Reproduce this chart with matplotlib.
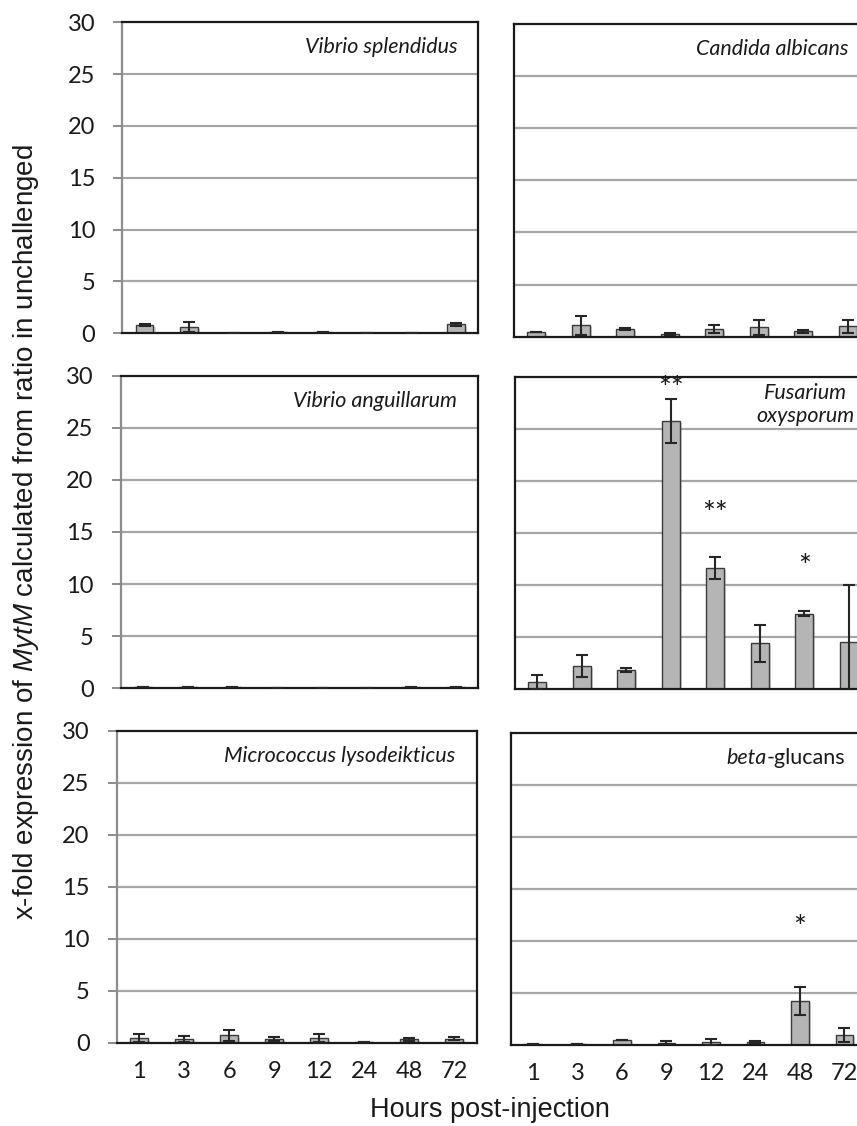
import matplotlib
matplotlib.use("Agg")
import matplotlib.pyplot as plt
import matplotlib.patheffects as pe

plt.rcParams["mathtext.fontset"] = "custom"
plt.rcParams["mathtext.rm"] = "Liberation Sans"
plt.rcParams["mathtext.it"] = "Liberation Sans:italic"

hours = ["1", "3", "6", "9", "12", "24", "48", "72"]

# Vibrio splendidus
vs_mean = [0.80, 0.60, 0.05, 0.15, 0.08, 0.03, 0.06, 0.85]
vs_err = [0.05, 0.45, 0.0, 0.0, 0.0, 0.0, 0.0, 0.15]
# Candida albicans
ca_mean = [0.45, 1.10, 0.75, 0.30, 0.75, 0.90, 0.50, 1.00]
ca_err = [0.0, 0.90, 0.10, 0.10, 0.40, 0.75, 0.15, 0.60]
# Vibrio anguillarum
va_mean = [0.15, 0.10, 0.12, 0.03, 0.02, 0.05, 0.15, 0.08]
va_err = [0.0, 0.0, 0.0, 0.0, 0.0, 0.0, 0.0, 0.0]
# Fusarium oxysporum
fo_mean = [0.70, 2.25, 1.85, 25.8, 11.65, 4.40, 7.25, 4.50]
fo_err = [0.70, 1.05, 0.20, 2.10, 1.10, 1.80, 0.25, 5.50]
# Micrococcus lysodeikticus
ml_mean = [0.45, 0.35, 0.70, 0.35, 0.45, 0.10, 0.35, 0.40]
ml_err = [0.35, 0.30, 0.55, 0.20, 0.35, 0.0, 0.15, 0.15]
# beta-glucans
bg_mean = [0.10, 0.12, 0.50, 0.20, 0.30, 0.25, 4.20, 0.95]
bg_err = [0.0, 0.0, 0.0, 0.15, 0.30, 0.10, 1.35, 0.70]

# significance marks: (bar index, y, text)
fo_stars = [(3, 28.0, "**"), (4, 16.0, "**"), (6, 10.85, "*")]
bg_stars = [(6, 10.4, "*")]

W, H = 857, 1126
fig = plt.figure(figsize=(W / 100, H / 100), dpi=100)


def box(l, t, r, b):
    return [l / W, 1 - b / H, (r - l) / W, (b - t) / H]


panels = [
    ("Vibrio splendidus", vs_mean, vs_err, box(122.3, 22.3, 478.3, 333.3), "L", 0, []),
    ("Candida albicans", ca_mean, ca_err, box(514, 24, 870, 336.7), "R", 0, []),
    ("Vibrio anguillarum", va_mean, va_err, box(120.7, 375.7, 478.3, 688.3), "L", 1, []),
    ("Fusarium\noxysporum", fo_mean, fo_err, box(515, 377, 871, 689.3), "R", 1, fo_stars),
    ("Micrococcus lysodeikticus", ml_mean, ml_err, box(116.7, 730.7, 476.7, 1042.7), "L", 2, []),
    ("beta-glucans", bg_mean, bg_err, box(510.7, 733, 866.7, 1045), "R", 2, bg_stars),
]

shadow = [pe.SimplePatchShadow(offset=(1.5, -1.5), shadow_rgbFace="#888888", alpha=0.35), pe.Normal()]
lab_size = 15.5

for name, mean, err, pos, side, row, stars in panels:
    ax = fig.add_axes(pos)
    x = list(range(len(hours)))
    ax.set_xlim(-0.5, 7.5)
    ax.set_ylim(0, 30)
    ax.set_yticks([0, 5, 10, 15, 20, 25, 30])
    for g in [5, 10, 15, 20, 25]:
        ax.axhline(g, color="#a6a6a6", lw=1.6, zorder=0)
    bars = ax.bar(x, mean, width=0.4, color="#b5b5b5", edgecolor="#3a3a3a", lw=1.0, zorder=2)
    for b in bars:
        b.set_path_effects(shadow)
    ax.errorbar(x, mean, yerr=err, fmt="none", ecolor="#262626", elinewidth=1.5,
                capsize=4.3, capthick=1.5, zorder=3)

    for s in ["top", "right", "bottom"]:
        ax.spines[s].set_color("#1a1a1a")
        ax.spines[s].set_linewidth(1.6)
    ax.spines["left"].set_linewidth(1.6)
    if side == "L":
        ax.spines["left"].set_color("#8c8c8c")
        ax.tick_params(axis="y", length=6.5, width=1.4, color="#8c8c8c", pad=13,
                       labelsize=17, labelcolor="#1a1a1a")
        for t in ax.get_yticklabels():
            t.set_fontfamily("Lato")
    else:
        ax.spines["left"].set_color("#1a1a1a")
        ax.tick_params(axis="y", length=0, labelleft=False)

    ax.set_xticks(x)
    if row == 2:
        ax.set_xticklabels(hours, fontfamily="Lato", fontsize=17, color="#1a1a1a")
        ax.tick_params(axis="x", length=0, pad=13)
    else:
        ax.tick_params(axis="x", length=0, labelbottom=False)

    # panel label
    xr = 1 - 21 / 356
    if name == "beta-glucans":
        t1 = ax.text(xr, 1 - 15 / 312, "-glucans", transform=ax.transAxes, ha="right", va="top",
                     fontfamily="Lato", fontsize=lab_size, color="#1a1a1a")
        ax.annotate("beta", xy=(0, 0), xycoords=t1, ha="right", va="bottom",
                    fontfamily="Lato", fontstyle="italic", fontsize=lab_size, color="#1a1a1a")
    elif "\n" in name:
        ax.text(xr + 0.012, 1 - 6 / 312, name, transform=ax.transAxes, ha="right", va="top",
                multialignment="center", fontfamily="Lato", fontstyle="italic", fontsize=lab_size,
                color="#1a1a1a", linespacing=1.2)
    else:
        ax.text(xr, 1 - 15 / 312, name, transform=ax.transAxes, ha="right", va="top",
                fontfamily="Lato", fontstyle="italic", fontsize=lab_size, color="#1a1a1a")

    for i, y, s in stars:
        ax.text(i, y, s, ha="center", va="baseline", fontfamily="Lato", fontsize=22,
                color="#1a1a1a", clip_on=False)

fig.text(26 / W, 1 - 532 / H, "x-fold expression of $\\mathit{MytM}$ calculated from ratio in unchallenged",
         rotation=90, ha="center", va="center", fontfamily="Liberation Sans", fontsize=20,
         color="#1a1a1a")
fig.text(370 / W, 1 - 1117 / H, "Hours post-injection", ha="left", va="baseline",
         fontfamily="Liberation Sans", fontsize=19.5, color="#1a1a1a")

fig.savefig("out.png", dpi=100)
